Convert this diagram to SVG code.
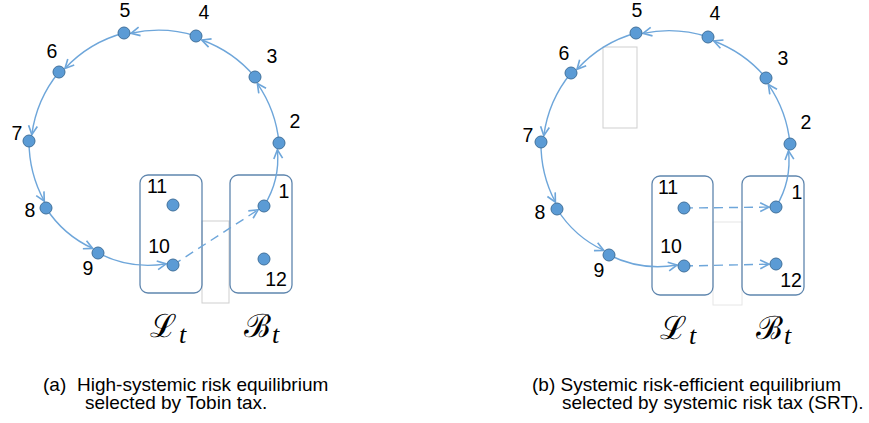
<svg xmlns="http://www.w3.org/2000/svg" width="869" height="423" viewBox="0 0 869 423">
<style>
.bg{fill:#ffffff}
.edge{fill:none;stroke:#6ea6da;stroke-width:1.4;marker-end:url(#arr)}
.dash{stroke-dasharray:9,6}
.node{fill:#5b9bd5;stroke:#41719c;stroke-width:1}
.box{fill:none;stroke:#5f86ae;stroke-width:1.3}
.ghost{fill:none;stroke:#cfcfcf;stroke-width:1}
.ghost2{fill:none;stroke:#e6e6e6;stroke-width:1}
.lbl{font-family:"Liberation Sans",Arial,sans-serif;font-size:19.5px;fill:#000;text-anchor:middle}
.cap{font-family:"Liberation Sans",Arial,sans-serif;font-size:19px;fill:#000}
.set{font-family:"DejaVu Serif","Liberation Serif",serif;font-size:32px;fill:#000}
.sub{font-family:"Liberation Serif",serif;font-style:italic;font-size:26px;fill:#000}
</style>
<defs>
<marker id="arr" viewBox="0 0 10 10" refX="9" refY="5" markerWidth="11" markerHeight="11" markerUnits="userSpaceOnUse" orient="auto">
<path d="M1,1 L9,5 L1,9" fill="none" stroke="#6ea6da" stroke-width="1.5"/>
</marker>
</defs>
<rect class="bg" x="0" y="0" width="869" height="423"/>

<!-- (a) -->
<g id="a-ghost"><rect class="ghost" x="202" y="221" width="27" height="82"/></g>
<g id="a-L"><rect class="box" x="140" y="175" width="62" height="118" rx="8"/></g>
<g id="a-B"><rect class="box" x="230" y="175" width="62" height="118" rx="8"/></g>
<g id="a-edges">
<path class="edge" d="M279,143 A125,125 0 0 0 257.4,83.6"/>
<path class="edge" d="M255,77 A125,125 0 0 0 201.8,40"/>
<path class="edge" d="M196,36 A125,125 0 0 0 131,33.3"/>
<path class="edge" d="M124,33 A125,125 0 0 0 65,68.4"/>
<path class="edge" d="M59,72 A125,125 0 0 0 31.8,134.6"/>
<path class="edge" d="M29,141 A125,125 0 0 0 44.3,201.2"/>
<path class="edge" d="M46,208 A110,110 0 0 0 92.7,248.4"/>
<path class="edge" d="M98,253 A110,110 0 0 0 166.1,263.9"/>
<path class="edge" d="M264,206 A90,90 0 0 0 277.4,149.8"/>
<path class="edge dash" d="M173,265 L258.1,209.8"/>
</g>
<g id="a-n1"><circle class="node" cx="264" cy="206" r="6"/><text class="lbl" x="284" y="198">1</text></g>
<g id="a-n2"><circle class="node" cx="279" cy="143" r="6"/><text class="lbl" x="295" y="128">2</text></g>
<g id="a-n3"><circle class="node" cx="255" cy="77" r="6"/><text class="lbl" x="272" y="63">3</text></g>
<g id="a-n4"><circle class="node" cx="196" cy="36" r="6"/><text class="lbl" x="204" y="19">4</text></g>
<g id="a-n5"><circle class="node" cx="124" cy="33" r="6"/><text class="lbl" x="125" y="17">5</text></g>
<g id="a-n6"><circle class="node" cx="59" cy="72" r="6"/><text class="lbl" x="52" y="58">6</text></g>
<g id="a-n7"><circle class="node" cx="29" cy="141" r="6"/><text class="lbl" x="17" y="140">7</text></g>
<g id="a-n8"><circle class="node" cx="46" cy="208" r="6"/><text class="lbl" x="30" y="217">8</text></g>
<g id="a-n9"><circle class="node" cx="98" cy="253" r="6"/><text class="lbl" x="88" y="275">9</text></g>
<g id="a-n10"><circle class="node" cx="173" cy="265" r="6"/><text class="lbl" x="159" y="253">10</text></g>
<g id="a-n11"><circle class="node" cx="173" cy="205" r="6"/><text class="lbl" x="157" y="193">11</text></g>
<g id="a-n12"><circle class="node" cx="264" cy="259" r="6"/><text class="lbl" x="276" y="286">12</text></g>
<g id="a-sets">
<text class="set" x="150" y="337">ℒ</text><text class="sub" x="179" y="343">t</text>
<text class="set" x="244" y="337">ℬ</text><text class="sub" x="272" y="343">t</text>
</g>
<g id="a-caption">
<text class="cap" x="43" y="391">(a)</text>
<text class="cap" x="77" y="391">High-systemic risk equilibrium</text>
<text class="cap" x="85" y="409">selected by Tobin tax.</text>
</g>

<!-- (b) -->
<g id="b-ghost"><rect class="ghost" x="603" y="47" width="34" height="81"/><rect class="ghost2" x="713" y="222" width="29" height="83"/></g>
<g id="b-L"><rect class="box" x="652" y="176" width="61" height="119" rx="8"/></g>
<g id="b-B"><rect class="box" x="742" y="176" width="62" height="119" rx="8"/></g>
<g id="b-edges">
<path class="edge" d="M790,144 A125,125 0 0 0 768.4,84.6"/>
<path class="edge" d="M766,78 A125,125 0 0 0 713.7,41"/>
<path class="edge" d="M708,37 A125,125 0 0 0 643,33.4"/>
<path class="edge" d="M636,33 A125,125 0 0 0 577,69.3"/>
<path class="edge" d="M571,73 A125,125 0 0 0 543.8,135.6"/>
<path class="edge" d="M541,142 A125,125 0 0 0 555.4,202.2"/>
<path class="edge" d="M557,209 A110,110 0 0 0 603.8,250.4"/>
<path class="edge" d="M609,255 A110,110 0 0 0 677.1,265"/>
<path class="edge" d="M776,207 A90,90 0 0 0 788.5,150.8"/>
<path class="edge dash" d="M684,208 L769,207.1"/>
<path class="edge dash" d="M684,266 L769,264.2"/>
</g>
<g id="b-n1"><circle class="node" cx="776" cy="207" r="6"/><text class="lbl" x="797" y="199">1</text></g>
<g id="b-n2"><circle class="node" cx="790" cy="144" r="6"/><text class="lbl" x="806" y="129">2</text></g>
<g id="b-n3"><circle class="node" cx="766" cy="78" r="6"/><text class="lbl" x="783" y="65">3</text></g>
<g id="b-n4"><circle class="node" cx="708" cy="37" r="6"/><text class="lbl" x="715" y="20">4</text></g>
<g id="b-n5"><circle class="node" cx="636" cy="33" r="6"/><text class="lbl" x="637" y="17">5</text></g>
<g id="b-n6"><circle class="node" cx="571" cy="73" r="6"/><text class="lbl" x="564" y="60">6</text></g>
<g id="b-n7"><circle class="node" cx="541" cy="142" r="6"/><text class="lbl" x="528" y="142">7</text></g>
<g id="b-n8"><circle class="node" cx="557" cy="209" r="6"/><text class="lbl" x="540" y="219">8</text></g>
<g id="b-n9"><circle class="node" cx="609" cy="255" r="6"/><text class="lbl" x="599" y="277">9</text></g>
<g id="b-n10"><circle class="node" cx="684" cy="266" r="6"/><text class="lbl" x="671" y="253">10</text></g>
<g id="b-n11"><circle class="node" cx="684" cy="208" r="6"/><text class="lbl" x="668" y="194">11</text></g>
<g id="b-n12"><circle class="node" cx="776" cy="264" r="6"/><text class="lbl" x="791" y="287">12</text></g>
<g id="b-sets">
<text class="set" x="660" y="339">ℒ</text><text class="sub" x="689" y="344">t</text>
<text class="set" x="756" y="339">ℬ</text><text class="sub" x="784" y="344">t</text>
</g>
<g id="b-caption">
<text class="cap" x="532" y="391">(b) Systemic risk-efficient equilibrium</text>
<text class="cap" x="562" y="409">selected by systemic risk tax (SRT).</text>
</g>
</svg>
